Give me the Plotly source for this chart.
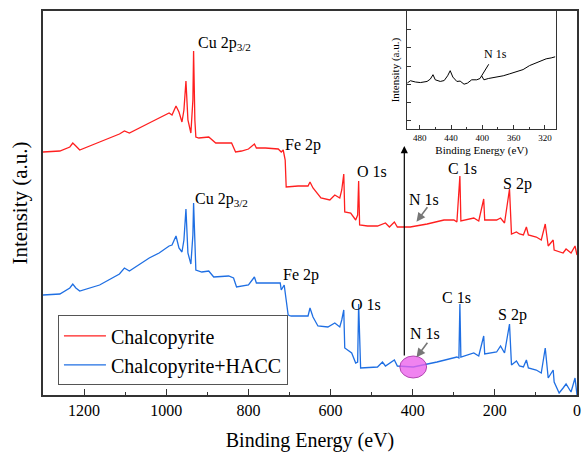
import plotly.graph_objects as go

# ---- main survey spectra (binding energy in eV, intensity in a.u.) ----
red_be = [1300, 1259, 1234.7, 1227.5, 1220, 1210.6, 1162.2, 1113.9, 1101.8, 1089.7,
          1041.4, 1010, 993, 985.9, 976.2, 969, 961.7, 956.9, 952, 947.2,
          940, 935.1, 933.4, 930.3, 927.9, 920.6, 896.5, 879.5, 840.9, 831.2,
          816.7, 799.8, 785.3, 780.5, 758.7, 727.3, 720, 715.2, 710.4, 708,
          679, 654.8, 650, 642.7, 623.4, 601.7, 589.6, 577.5, 572.7, 567.8,
          565.4, 550.9, 538.8, 534, 531.6, 529.2, 509.9, 485.7, 466.3, 456.7,
          444.6, 437.3, 405.9, 364.9, 323.8, 299.6, 292.4, 285.1, 282.7, 251.3,
          239.2, 227.1, 224.7, 195.7, 186.1, 176.4, 164.3, 159.5, 147.4, 140.1,
          130.5, 123.2, 118.4, 99.1, 87, 77.3, 70.1, 58, 55.6, 33.8,
          26.6, 14.5, 4.8, 0]
red_int = [243, 244, 248, 252, 249, 245, 253, 261, 264, 262,
           272, 278, 282, 280, 289, 283, 273, 285, 314, 275,
           262, 295, 344, 275, 258, 257, 258, 252, 252, 243,
           244, 246, 251, 247, 247, 246, 243, 245, 235, 208,
           209, 209, 213, 207, 197, 195, 200, 197, 205, 221,
           183, 182, 175, 180, 214, 170, 169, 169, 172, 168,
           173, 168, 168, 171, 175, 175, 173, 219, 174, 177,
           174, 196, 175, 175, 177, 172, 206, 161, 163, 161,
           160, 168, 160, 158, 155, 171, 149, 155, 145, 142,
           146, 142, 149, 140]

blue_be = [1300, 1259, 1234.7, 1227.5, 1220, 1210.6, 1162.2, 1113.9, 1101.8, 1089.7,
           1041.4, 1017.3, 993, 985.9, 976.2, 969, 961.7, 956.9, 952, 947.2,
           940, 935.1, 933.4, 930.3, 927.9, 913.4, 896.5, 884.4, 848.1, 836.1,
           828.8, 799.8, 785.3, 780.5, 734.6, 722.5, 720, 712.8, 708, 703.2,
           695.9, 654.8, 650, 642.7, 630.7, 606.5, 589.6, 577.5, 572.7, 567.8,
           565.4, 548.5, 538.8, 534, 531.6, 526.8, 485.7, 473.6, 466.3, 444.6,
           437.3, 398.7, 340.7, 292.4, 287.5, 285.1, 282.7, 251.3, 239.2, 227.1,
           224.7, 195.7, 186.1, 176.4, 164.3, 159.5, 147.4, 140.1, 130.5, 123.2,
           118.4, 99.1, 87, 77.3, 70.1, 58, 55.6, 43.5, 33.8, 26.6,
           14.5, 4.8, 0]
blue_int = [100, 101, 107, 111, 107, 104, 110, 121, 127, 124,
            137, 142, 149, 150, 159, 147, 143, 155, 186, 142,
            131, 160, 192, 145, 125, 123, 124, 118, 119, 117,
            108, 110, 118, 112, 112, 112, 105, 110, 95, 80,
            79, 79, 87, 78, 69, 68, 72, 68, 75, 85,
            47, 42, 32, 33, 91, 27, 28, 33, 29, 35,
            29, 28, 33, 38, 37, 91, 38, 42, 39, 59,
            41, 43, 49, 42, 71, 30, 34, 29, 28, 35,
            27, 25, 22, 47, 17, 25, 13, 2, 7, 11,
            3, 17, 0]

# ---- inset: N 1s region of Chalcopyrite+HACC ----
inset_be = [496.1, 491.9, 485.6, 479.2, 470.7, 466.5, 463.1, 460.2, 453.8, 448.8,
            444.4, 441.1, 437.7, 432.6, 428.4, 423.4, 419.0, 413.6, 407.2, 403.0,
            400.9, 398.0, 392.4, 381.8, 373.3, 364.9, 356.4, 347.9, 339.6, 331.2,
            324.7, 318.4, 312.0, 306.9]
inset_int = [2.07, 2.20, 2.13, 2.10, 2.16, 2.29, 2.53, 2.25, 2.16, 2.21,
             2.47, 2.75, 2.40, 2.16, 2.18, 2.01, 2.07, 2.25, 2.25, 2.32,
             2.47, 2.25, 2.32, 2.40, 2.47, 2.58, 2.70, 2.81, 3.03, 3.18,
             3.30, 3.40, 3.45, 3.51]

series_names = ["Chalcopyrite", "Chalcopyrite+HACC"]
main_ticks = [1200, 1000, 800, 600, 400, 200, 0]
inset_ticks = [480, 440, 400, 360, 320]

FONT = "Liberation Serif"
RED = "#ff1f1f"
BLUE = "#1f6fe3"
AX = "#333333"

fig = go.Figure()
fig.add_trace(go.Scatter(x=red_be, y=red_int, mode="lines", name=series_names[0],
                         line=dict(color=RED, width=1.3)))
fig.add_trace(go.Scatter(x=blue_be, y=blue_int, mode="lines", name=series_names[1],
                         line=dict(color=BLUE, width=1.3)))
fig.add_trace(go.Scatter(x=inset_be, y=inset_int, mode="lines", showlegend=False,
                         line=dict(color="black", width=1), xaxis="x2", yaxis="y2"))

ann = []
def lab(x, y, t, size=16, xanchor="left", xref="x", yref="y"):
    ann.append(dict(x=x, y=y, text=t, showarrow=False, xanchor=xanchor, yanchor="middle",
                    xref=xref, yref=yref, font=dict(family=FONT, size=size, color="black")))

cu = "Cu 2p<sub>3/2</sub>"
lab(928, 352, cu)
lab(935, 196, cu)
lab(715, 250, "Fe 2p")
lab(720, 120, "Fe 2p")
lab(541, 224, "O 1s")
lab(556, 91, "O 1s")
lab(319, 227, "C 1s")
lab(333, 98, "C 1s")
lab(184, 211, "S 2p")
lab(198, 80, "S 2p")
lab(372, 196, "N 1s", xanchor="center")
lab(370, 62, "N 1s", xanchor="center")
lab(383.7, 3.69, "N 1s", size=12, xanchor="center", xref="x2", yref="y2")

# gray arrows to N 1s
for hy in (173.3, 37.7):
    ann.append(dict(x=390.7, y=hy, xref="x", yref="y", ax=12, ay=-16, showarrow=True,
                    arrowhead=2, arrowsize=1.1, arrowwidth=1.6, arrowcolor="#777777", text=""))
# vertical black arrow to inset
ann.append(dict(x=420.4, y=249, xref="x", yref="y", ax=0, ay=211, showarrow=True,
                arrowhead=2, arrowsize=1.2, arrowwidth=1.2, arrowcolor="black", text=""))
# inset pointer line
ann.append(dict(x=400.9, y=2.47, xref="x2", yref="y2", ax=8, ay=-13, showarrow=True,
                arrowhead=0, arrowwidth=1, arrowcolor="black", text=""))

fig.update_layout(
    width=584, height=452,
    margin=dict(l=43, r=3, t=11, b=57),
    paper_bgcolor="white", plot_bgcolor="white",
    font=dict(family=FONT, color="black"),
    annotations=ann,
    shapes=[dict(type="circle", xref="x", yref="y", x0=431.3, x1=366.1, y0=17, y1=39,
                 fillcolor="rgba(236,96,236,0.78)", line=dict(color="rgba(170,60,170,0.9)", width=1),
                 layer="above")],
    legend=dict(x=0.028, y=0.025, xanchor="left", yanchor="bottom",
                bordercolor="#555555", borderwidth=1, bgcolor="white",
                font=dict(family=FONT, size=20), tracegroupgap=0, itemwidth=42),
    xaxis=dict(range=[1300, 0], showline=True, mirror=True, linecolor=AX, linewidth=1.6,
               ticks="inside", ticklen=6, tickwidth=1.2, tickcolor=AX,
               tickvals=main_ticks, showgrid=False, zeroline=False,
               minor=dict(dtick=100, ticks="inside", ticklen=3, tickwidth=1.2, tickcolor=AX),
               tickfont=dict(family=FONT, size=16),
               title=dict(text="Binding Energy (eV)", font=dict(family=FONT, size=20), standoff=15)),
    yaxis=dict(range=[0, 384], showline=True, mirror=True, linecolor=AX, linewidth=1.6,
               ticks="", showticklabels=False, showgrid=False, zeroline=False,
               title=dict(text="Intensity (a.u.)", font=dict(family=FONT, size=21), standoff=8)),
    xaxis2=dict(domain=[0.682, 0.961], anchor="y2", range=[496.1, 305.6],
                showline=True, mirror=True, linecolor=AX, linewidth=1,
                ticks="inside", ticklen=4, tickwidth=1, tickcolor=AX,
                tickvals=inset_ticks, showgrid=False, zeroline=False,
                minor=dict(dtick=20, ticks="inside", ticklen=2, tickwidth=1, tickcolor=AX),
                tickfont=dict(family=FONT, size=9),
                title=dict(text="Binding Energy (eV)", font=dict(family=FONT, size=11), standoff=4)),
    yaxis2=dict(domain=[0.692, 1.0], anchor="x2", range=[-0.46, 6.02],
                showline=True, mirror=True, linecolor=AX, linewidth=1,
                ticks="inside", ticklen=4, tickwidth=1, tickcolor=AX, dtick=1,
                showticklabels=False, showgrid=False, zeroline=False,
                title=dict(text="Intensity (a.u.)", font=dict(family=FONT, size=11), standoff=4)),
)

fig.write_html("out.html")
